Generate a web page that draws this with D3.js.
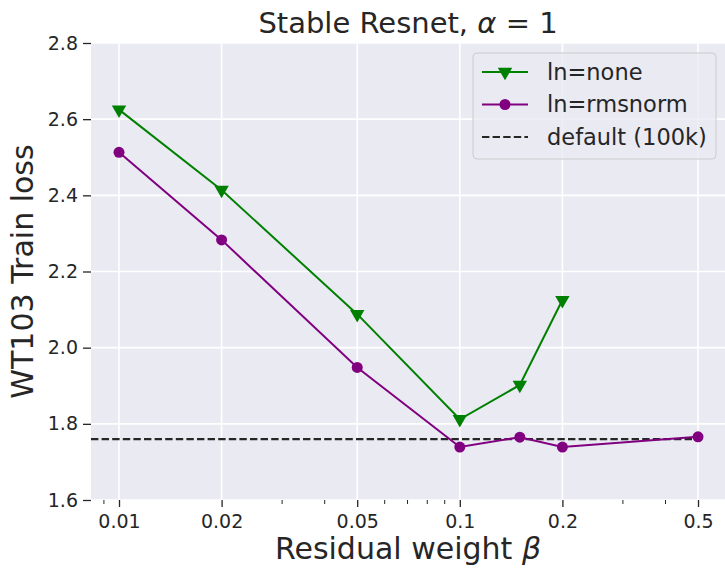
<!DOCTYPE html>
<html>
<head>
<meta charset="utf-8">
<script src="https://cdn.jsdelivr.net/npm/d3@7"></script>
<style>
  body { margin: 0; background: #fff; }
  text { font-family: "DejaVu Sans", sans-serif; fill: #262626; }
</style>
</head>
<body>
<svg id="chart" width="725" height="569"></svg>
<script>
const betas = [0.01, 0.02, 0.05, 0.1, 0.15, 0.2, 0.5];
const lossNone = [2.625, 2.414, 2.088, 1.812, 1.902, 2.125, null];
const lossRms = [2.513, 2.283, 1.948, 1.739, 1.765, 1.739, 1.766];
const defaultLoss = 1.76;
const xTicks = [0.01, 0.02, 0.05, 0.1, 0.2, 0.5];
const xTickLabels = ["0.01", "0.02", "0.05", "0.1", "0.2", "0.5"];
const xMinor = [0.009, 0.03, 0.04, 0.06, 0.07, 0.08, 0.09, 0.3, 0.4, 0.6];
const yTicks = [1.6, 1.8, 2.0, 2.2, 2.4, 2.6, 2.8];

const margin = {left: 91, right: 725, top: 43, bottom: 500};
const svg = d3.select("#chart");

const x = d3.scaleLog().domain([0.008276, 0.6]).range([margin.left, margin.right]);
const y = d3.scaleLinear().domain([1.6, 2.8]).range([margin.bottom, margin.top]);

// background
svg.append("rect")
    .attr("x", margin.left).attr("y", margin.top)
    .attr("width", margin.right - margin.left)
    .attr("height", margin.bottom - margin.top)
    .attr("fill", "#eaeaf2");

// grid
svg.append("g").selectAll("line").data(xTicks).enter().append("line")
    .attr("x1", d => x(d)).attr("x2", d => x(d))
    .attr("y1", margin.top).attr("y2", margin.bottom)
    .attr("stroke", "#fff").attr("stroke-width", 1.6);
svg.append("g").selectAll("line").data(yTicks).enter().append("line")
    .attr("x1", margin.left).attr("x2", margin.right)
    .attr("y1", d => y(d)).attr("y2", d => y(d))
    .attr("stroke", "#fff").attr("stroke-width", 1.6);

// axes
const xAxis = svg.append("g")
    .attr("transform", `translate(0,${margin.bottom})`)
    .call(d3.axisBottom(x).tickValues(xTicks)
        .tickFormat((d, i) => xTickLabels[i]).tickSize(7).tickPadding(8));
const xMinorAxis = svg.append("g")
    .attr("transform", `translate(0,${margin.bottom})`)
    .call(d3.axisBottom(x).tickValues(xMinor).tickFormat("").tickSize(4));
const yAxis = svg.append("g")
    .attr("transform", `translate(${margin.left},0)`)
    .call(d3.axisLeft(y).tickValues(yTicks).tickFormat(d3.format(".1f"))
        .tickSize(8).tickPadding(5));
[xAxis, xMinorAxis, yAxis].forEach(function(a) {
    a.select(".domain").remove();
    a.selectAll(".tick line").attr("stroke", "#262626").attr("stroke-width", 1.3);
    a.selectAll(".tick text").attr("font-size", 19).attr("font-family", "DejaVu Sans")
        .attr("fill", "#262626");
});
xMinorAxis.selectAll(".tick line").attr("stroke-width", 1);

// default line
svg.append("line")
    .attr("x1", x(0.008276)).attr("x2", x(0.5))
    .attr("y1", y(defaultLoss)).attr("y2", y(defaultLoss))
    .attr("stroke", "#262626").attr("stroke-width", 2.2)
    .attr("stroke-dasharray", "7.4,3.2");

const line = d3.line()
    .defined(d => d[1] !== null)
    .x(d => x(d[0])).y(d => y(d[1]));

const noneData = betas.map((b, i) => [b, lossNone[i]]).filter(d => d[1] !== null);
const rmsData = betas.map((b, i) => [b, lossRms[i]]);

const tri = d3.symbol().type(d3.symbolTriangle).size(90);

svg.append("path").datum(noneData)
    .attr("d", line).attr("fill", "none")
    .attr("stroke", "green").attr("stroke-width", 2);
svg.append("g").selectAll("path").data(noneData).enter().append("path")
    .attr("d", tri)
    .attr("transform", d => `translate(${x(d[0])},${y(d[1])}) rotate(180)`)
    .attr("fill", "green");

svg.append("path").datum(rmsData)
    .attr("d", line).attr("fill", "none")
    .attr("stroke", "purple").attr("stroke-width", 2);
svg.append("g").selectAll("circle").data(rmsData).enter().append("circle")
    .attr("cx", d => x(d[0])).attr("cy", d => y(d[1]))
    .attr("r", 5.5).attr("fill", "purple");

// legend
const legend = svg.append("g");
legend.append("rect")
    .attr("x", 473).attr("y", 53).attr("width", 243).attr("height", 106)
    .attr("rx", 4).attr("fill", "#eaeaf2").attr("fill-opacity", 0.8)
    .attr("stroke", "#cccccc").attr("stroke-width", 1);
const entries = [
    {label: "ln=none", color: "green", marker: "tri"},
    {label: "ln=rmsnorm", color: "purple", marker: "circle"},
    {label: "default (100k)", color: "#262626", marker: "dash"}
];
entries.forEach(function(e, i) {
    const ly = 72 + i * 32.5;
    const l = legend.append("line")
        .attr("x1", 482).attr("x2", 528).attr("y1", ly).attr("y2", ly)
        .attr("stroke", e.color).attr("stroke-width", 2);
    if (e.marker === "dash") l.attr("stroke-dasharray", "7.4,3.2").attr("stroke-width", 2.2);
    if (e.marker === "tri") {
        legend.append("path").attr("d", tri)
            .attr("transform", `translate(505,${ly}) rotate(180)`).attr("fill", e.color);
    }
    if (e.marker === "circle") {
        legend.append("circle").attr("cx", 505).attr("cy", ly).attr("r", 5.5).attr("fill", e.color);
    }
    legend.append("text")
        .attr("x", 547).attr("y", ly).attr("dy", "0.35em")
        .attr("font-size", 22.5).text(e.label);
});

// title and labels
const mid = (margin.left + margin.right) / 2;
const title = svg.append("text")
    .attr("x", mid).attr("y", 33).attr("text-anchor", "middle")
    .attr("font-size", 29);
title.append("tspan").text("Stable Resnet, ");
title.append("tspan").attr("font-style", "italic").text("α");
title.append("tspan").text(" = 1");

const xl = svg.append("text")
    .attr("x", mid).attr("y", 559).attr("text-anchor", "middle")
    .attr("font-size", 30);
xl.append("tspan").text("Residual weight ");
xl.append("tspan").attr("font-style", "italic").text("β");

svg.append("text")
    .attr("transform", `translate(33,${(margin.top + margin.bottom) / 2}) rotate(-90)`)
    .attr("text-anchor", "middle")
    .attr("font-size", 30)
    .text("WT103 Train loss");
</script>
</body>
</html>
